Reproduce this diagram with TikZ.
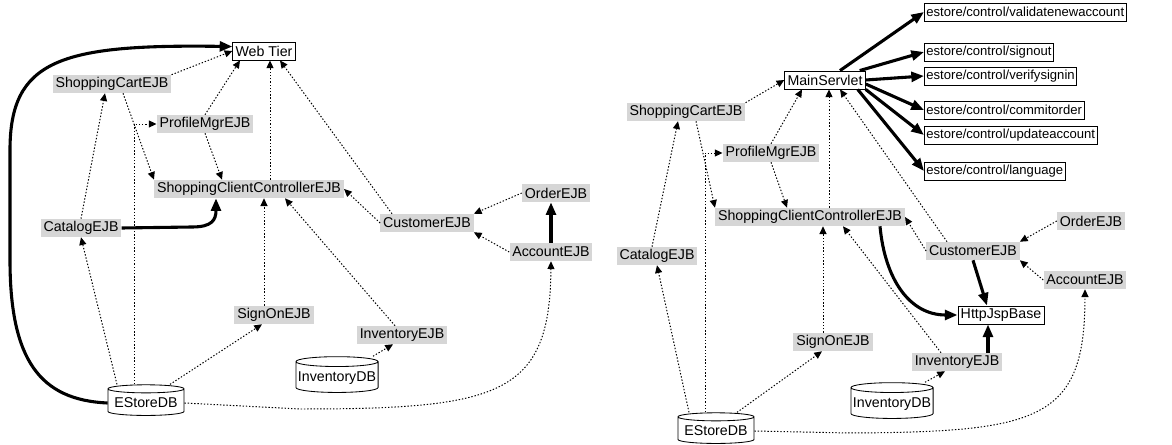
\documentclass[tikz,border=0pt]{standalone}
\usepackage{fontspec}
\setmainfont{Liberation Sans}
\usetikzlibrary{arrows.meta,shapes.geometric,calc}
\definecolor{grisejb}{RGB}{214,214,214}
\tikzset{
	ejb/.style={fill=grisejb, inner xsep=0.07cm, inner ysep=0pt, minimum height=0.45cm},
	caixa/.style={draw, fill=white, line width=0.6pt, inner xsep=0.07cm, inner ysep=0pt, minimum height=0.45cm},
	ctl/.style={caixa, anchor=west, inner xsep=0.05cm, font=\fontsize{9.3}{11}\selectfont},
	bd/.style={draw, fill=white, line width=0.6pt, cylinder, shape border rotate=90, aspect=0.12, minimum width=1.9cm, minimum height=0.75cm, inner xsep=0.05cm},
	dep/.style={dash pattern=on 1pt off 1.3pt, line width=0.7pt, -{Triangle[length=5.5pt,width=5pt]}},
	fort/.style={line width=2.2pt, -{Triangle[length=9pt,width=7pt]}}
}
\begin{document}
\begin{tikzpicture}[x=0.025cm, y=-0.025cm, font=\fontsize{10.1}{12}\selectfont]
				\useasboundingbox (0,0) rectangle (1172,445);
				%Primer diagrama
				%Nodes
				\node[caixa] (wt1) at (264,51) {Web Tier};
				\node[ejb] (cart1) at (112,84) {ShoppingCartEJB};
				\node[ejb] (prof1) at (205,124) {ProfileMgrEJB};
				\node[ejb] (scc1) at (249,189) {ShoppingClientControllerEJB};
				\node[ejb] (cat1) at (81,228) {CatalogEJB};
				\node[ejb] (cust1) at (427,223) {CustomerEJB};
				\node[ejb] (ord1) at (556,193) {OrderEJB};
				\node[ejb] (acc1) at (551,252) {AccountEJB};
				\node[ejb] (sign1) at (274,315) {SignOnEJB};
				\node[ejb] (inv1) at (402,335) {InventoryEJB};
				\node[bd] (invdb1) at (337,378) {InventoryDB};
				\node[bd] (estore1) at (146,403) {EStoreDB};
				%Fletxes gruixudes
				\draw[fort] (estore1.west) .. controls (40,400) and (10,360) .. (10,260) -- (10,150) .. controls (10,60) and (60,44) .. (wt1.172);
				\draw[fort] (cat1.east) -- (192,227) .. controls (212,227) and (216,220) .. ($(scc1.south)+(-33,0)$);
				\draw[fort] (acc1.north) -- (acc1.north |- ord1.south);
				%Fletxes puntejades
				\draw[dep] (cart1.north east) -- (wt1.west);
				\draw[dep] ($(cart1.south)+(11,0)$) -- (scc1.north west);
				\draw[dep] (cat1.north) -- ($(cart1.south)+(-7,0)$);
				\draw[dep] ($(estore1.north)+(-29,0)$) -- (cat1.south);
				\draw[dep] ($(estore1.north)+(-12,0)$) |- (prof1.west);
				\draw[dep] (prof1.north) -- ($(wt1.south)+(-24,0)$);
				\draw[dep] (prof1.south) -- ($(scc1.north)+(-27,0)$);
				\draw[dep] ($(scc1.north)+(21,0)$) -- ($(wt1.south)+(6,0)$);
				\draw[dep] ($(sign1.north)+(-10,0)$) -- ($(scc1.south)+(15,0)$);
				\draw[dep] ($(estore1.north)+(24,0)$) -- ($(sign1.south)+(-12,0)$);
				\draw[dep] ($(inv1.north)+(-7,0)$) -- ($(scc1.south)+(36,0)$);
				\draw[dep] ($(invdb1.north)+(36,0)$) -- ($(inv1.south)+(-9,0)$);
				\draw[dep] ($(cust1.north)+(-35,0)$) -- ($(wt1.south)+(16,0)$);
				\draw[dep] (cust1.west) -- (scc1.east);
				\draw[dep] (ord1.west) -- (cust1.north east);
				\draw[dep] (acc1.west) -- (cust1.south east);
				\draw[dep] (estore1.east) -- (300,409) .. controls (500,409) and (550,395) .. (acc1.south);
				%Segon diagrama
				%Nodes
				\node[caixa] (ms2) at (825,80) {MainServlet};
				\node[ctl] (ctl1) at (924,12) {estore/control/validatenewaccount};
				\node[ctl] (ctl2) at (924,52) {estore/control/signout};
				\node[ctl] (ctl3) at (924,76) {estore/control/verifysignin};
				\node[ctl] (ctl4) at (924,110) {estore/control/commitorder};
				\node[ctl] (ctl5) at (924,135) {estore/control/updateaccount};
				\node[ctl] (ctl6) at (924,171) {estore/control/language};
				\node[ejb] (cart2) at (686,112) {ShoppingCartEJB};
				\node[ejb] (prof2) at (771,153) {ProfileMgrEJB};
				\node[ejb] (scc2) at (810,217) {ShoppingClientControllerEJB};
				\node[ejb] (cat2) at (657,256) {CatalogEJB};
				\node[ejb] (cust2) at (973,251) {CustomerEJB};
				\node[ejb] (ord2) at (1091,221) {OrderEJB};
				\node[ejb] (acc2) at (1085,280) {AccountEJB};
				\node[caixa] (http2) at (1001,315) {HttpJspBase};
				\node[ejb] (sign2) at (833,342) {SignOnEJB};
				\node[ejb] (inv2) at (957,362) {InventoryEJB};
				\node[bd] (invdb2) at (892,404) {InventoryDB};
				\node[bd] (estore2) at (716,431) {EStoreDB};
				%Fletxes gruixudes
				\draw[fort] ($(ms2.north)+(15,0)$) -- (ctl1.west);
				\draw[fort] ($(ms2.north east)+(-6,0)$) -- (ctl2.west);
				\draw[fort] (ms2.east) -- (ctl3.west);
				\draw[fort] ($(ms2.east)+(0,4)$) -- (ctl4.west);
				\draw[fort] (ms2.south east) -- (ctl5.west);
				\draw[fort] ($(ms2.south east)+(-8,0)$) -- (ctl6.west);
				\draw[fort] ($(scc2.south)+(70,0)$) .. controls (885,280) and (910,315) .. (http2.west);
				\draw[fort] (cust2.south) -- ($(http2.north)+(-14,0)$);
				\draw[fort] ($(inv2.north)+(31,0)$) -- ($(http2.south)+(-13,0)$);
				%Fletxes puntejades
				\draw[dep] (cart2.north east) -- (ms2.west);
				\draw[dep] ($(cart2.south)+(10,0)$) -- (scc2.north west);
				\draw[dep] ($(cat2.north)+(-5,0)$) -- ($(cart2.south)+(-8,0)$);
				\draw[dep] ($(estore2.north)+(-27,0)$) -- (cat2.south);
				\draw[dep] ($(estore2.north)+(-11,0)$) |- (prof2.west);
				\draw[dep] (prof2.north) -- ($(ms2.south)+(-23,0)$);
				\draw[dep] (prof2.south) -- ($(scc2.north)+(-23,0)$);
				\draw[dep] ($(scc2.north)+(19,0)$) -- ($(ms2.south)+(4,0)$);
				\draw[dep] ($(cust2.north)+(-26,0)$) -- ($(ms2.south)+(15,0)$);
				\draw[dep] (cust2.west) -- (scc2.east);
				\draw[dep] (ord2.west) -- (cust2.north east);
				\draw[dep] (acc2.west) -- (cust2.south east);
				\draw[dep] ($(sign2.north)+(-10,0)$) -- ($(scc2.south)+(13,0)$);
				\draw[dep] ($(estore2.north)+(21,0)$) -- ($(sign2.south)+(-11,0)$);
				\draw[dep] ($(inv2.north)+(-16,0)$) -- ($(scc2.south)+(33,0)$);
				\draw[dep] ($(invdb2.north)+(33,0)$) -- ($(inv2.south)+(-12,0)$);
				\draw[dep] (estore2.east) -- (850,433) .. controls (1040,432) and (1085,420) .. (acc2.south);
			\end{tikzpicture}
\end{document}
